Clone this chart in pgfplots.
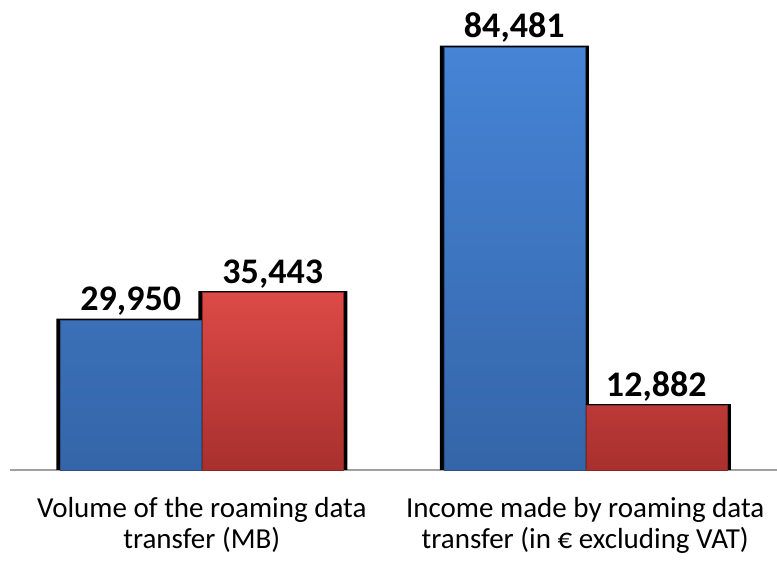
\documentclass[border=0pt]{standalone}
\usepackage{pgfplots}
\pgfplotsset{compat=1.18}
\usepackage{fontspec}
\setmainfont{Carlito}
\definecolor{bluetop}{HTML}{4684D6}
\definecolor{bluebot}{HTML}{3465A8}
\definecolor{redtop}{HTML}{DC4A46}
\definecolor{redbot}{HTML}{A8302E}
\definecolor{axisgray}{HTML}{A0A0A0}
\begin{document}
\begin{tikzpicture}[x=1pt,y=1pt]
\useasboundingbox (0,0) rectangle (777,561);
\begin{axis}[
  at={(10pt,91pt)}, anchor=south west,
  scale only axis, width=767pt, height=450.6pt,
  xmin=-0.5, xmax=1.5, ymin=0, ymax=90000,
  axis x line=bottom, axis y line=none,
  x axis line style={-, draw=axisgray, line width=1.2pt},
  xtick={0,1}, xticklabels={{Volume of the roaming data\\transfer (MB)},{Income made by roaming data\\transfer (in € excluding VAT)}},
  xticklabel style={align=center, font=\fontsize{29}{31}\selectfont, yshift=-24pt},
  major tick length=0pt,
  ytick=\empty,
  clip=false,
  bar width=141pt,
  /pgf/number format/1000 sep={,},
  /pgf/number format/assume math mode=true,
  nodes near coords style={font=\fontsize{36}{36}\selectfont\bfseries, yshift=1pt},
]
% shadows
\addplot[ybar, bar shift=-71pt, bar width=149pt, fill=black, draw=none, forget plot] coordinates {(0,30250) (1,84780)};
\addplot[ybar, bar shift=71pt, bar width=149pt, fill=black, draw=none, forget plot] coordinates {(0,35740) (1,13180)};
% bars
\addplot[ybar, bar shift=-71pt, top color=bluetop, bottom color=bluebot, draw=bluebot!80!black, line width=0.4pt,
  nodes near coords, every node near coord/.append style={xshift=-71pt}] coordinates {(0,29950) (1,84481)};
\addplot[ybar, bar shift=71pt, top color=redtop, bottom color=redbot, draw=redbot!80!black, line width=0.4pt,
  nodes near coords, every node near coord/.append style={xshift=71pt}] coordinates {(0,35443) (1,12882)};
\end{axis}
\end{tikzpicture}
\end{document}
